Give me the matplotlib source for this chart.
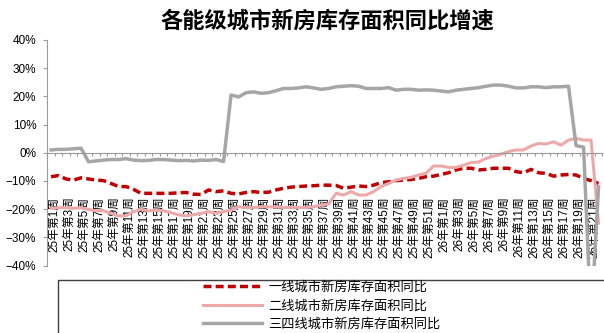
import matplotlib
matplotlib.use("Agg")
import matplotlib.pyplot as plt
import numpy as np
from matplotlib.patches import Rectangle
from matplotlib.ticker import FixedLocator, FuncFormatter
from matplotlib.transforms import ScaledTranslation

# ── data (% YoY) ─────────────────────────────────────────────────────────────
TITLE = "各能级城市新房库存面积同比增速"
WEEKS = [f"25年第{w}周" for w in range(1, 53)] + [f"26年第{w}周" for w in range(1, 23)]
NAMES = ["一线城市新房库存面积同比", "二线城市新房库存面积同比", "三四线城市新房库存面积同比"]

TIER1 = [-8.5, -8.1, -9.3, -9.7, -8.9, -9.3, -9.7, -9.9, -10.9, -12.0,
         -12.0, -13.0, -14.4, -14.4, -14.4, -14.4, -14.4, -14.2, -14.1, -14.7,
         -14.8, -13.2, -13.8, -13.5, -14.4, -14.6, -14.1, -13.8, -14.1, -14.0,
         -13.2, -12.6, -12.2, -12.0, -11.8, -11.7, -11.5, -11.5, -11.6, -12.6,
         -12.2, -11.8, -12.0, -11.5, -10.6, -10.3, -9.9, -9.7, -9.5, -9.1,
         -8.5, -8.3, -7.7, -7.1, -6.1, -5.5, -5.5, -6.1, -5.9, -5.5,
         -5.5, -5.5, -6.7, -7.1, -5.9, -7.1, -7.3, -8.3, -7.9, -7.7,
         -7.9, -9.1, -9.9, -10.9]
TIER2 = [-19.7, -19.5, -19.5, -19.7, -19.5, -20.1, -20.6, -20.6, -21.5, -22.4,
         -22.4, -20.9, -20.1, -20.6, -20.4, -20.6, -21.3, -22.0, -22.4, -22.0,
         -21.5, -20.9, -21.5, -20.9, -20.4, -19.1, -19.5, -19.4, -19.2, -19.2,
         -19.2, -19.4, -19.4, -19.4, -19.4, -19.2, -18.5, -18.2, -14.4, -15.0,
         -13.8, -15.0, -15.0, -13.8, -12.0, -10.9, -9.7, -9.1, -8.7, -7.9,
         -7.3, -4.7, -4.7, -5.2, -5.2, -4.4, -3.5, -3.3, -2.0, -1.2,
         -0.5, 0.4, 1.0, 1.0, 2.4, 3.3, 3.1, 3.9, 2.7, 4.5,
         5.1, 4.5, 4.5, -25.0]
TIER34 = [1.0, 1.2, 1.2, 1.4, 1.6, -3.2, -2.9, -2.6, -2.4, -2.4,
          -2.1, -2.6, -2.8, -2.7, -2.4, -2.4, -2.6, -2.8, -2.7, -2.9,
          -2.6, -2.7, -2.4, -3.1, 20.5, 19.8, 21.3, 21.6, 21.1, 21.3,
          22.0, 22.8, 22.8, 23.0, 23.4, 23.0, 22.5, 22.8, 23.4, 23.6,
          23.8, 23.6, 22.8, 22.8, 22.8, 23.1, 22.2, 22.5, 22.5, 22.2,
          22.3, 22.2, 21.9, 21.6, 22.2, 22.5, 22.8, 23.1, 23.6, 24.0,
          24.0, 23.6, 23.0, 23.0, 23.4, 23.4, 23.1, 23.4, 23.4, 23.6,
          2.5, 2.0, -60.0, -12.0]

assert len(TIER1) == len(TIER2) == len(TIER34) == len(WEEKS)

RED = "#C00000"
PINK = "#EDA9A9"
GREY = "#A6A6A6"
AXIS_GREY = "#9A9A9A"
CJK = ["Noto Sans CJK SC", "DejaVu Sans"]

plt.rcParams["font.family"] = ["Liberation Sans", "Noto Sans CJK SC"]

# ── figure ───────────────────────────────────────────────────────────────────
W, H = 604, 333
fig = plt.figure(figsize=(W / 100, H / 100), dpi=100)
ax = fig.add_axes([47.3 / W, 1 - 265.5 / H, (602.3 - 47.3) / W, (265.5 - 40) / H])

x = np.arange(len(WEEKS))
ax.plot(x, TIER1, color=RED, lw=2.5, dashes=(2.3, 1.2), label=NAMES[0])
ax.plot(x, TIER2, color=PINK, lw=2.2, label=NAMES[1])
ax.plot(x, TIER34, color=GREY, lw=2.5, label=NAMES[2])

ax.set_xlim(-0.5, len(WEEKS) - 0.5)
ax.set_ylim(-40, 40)
ax.set_yticks(np.arange(-40, 41, 10))
ax.yaxis.set_major_formatter(FuncFormatter(lambda v, _: f"{v:.0f}%".replace("-", "\u2212")))

for s in ("top", "right"):
    ax.spines[s].set_visible(False)
ax.spines["left"].set_color(AXIS_GREY)
ax.spines["left"].set_linewidth(0.8)
ax.spines["bottom"].set_position(("data", 0))
ax.spines["bottom"].set_color(AXIS_GREY)
ax.spines["bottom"].set_linewidth(0.8)

ax.set_xticks(x[::2])
ax.set_xticklabels(WEEKS[::2], rotation=90, fontsize=8.5)
ax.xaxis.set_minor_locator(FixedLocator(np.arange(-0.5, len(WEEKS), 1)))
ax.tick_params(axis="x", which="major", length=0, pad=31.5)
ax.tick_params(axis="x", which="minor", length=2.5, width=0.8,
               color=AXIS_GREY, direction="out")
ax.tick_params(axis="y", length=3, width=0.8, color=AXIS_GREY,
               labelsize=8.5, pad=5)

shift = ScaledTranslation(3.5 / 100, 0, fig.dpi_scale_trans)
for lbl in ax.get_xticklabels():
    lbl.set_transform(lbl.get_transform() + shift)

# title
fig.text(327 / W, 1 - 21 / H, TITLE, ha="center", va="center",
         fontsize=16, fontweight="bold", family=CJK)

# legend box runs off the bottom/right edge in the reference
fig.patches.append(Rectangle((58.3 / W, -0.1), 1.0, (1 - 280 / H) + 0.1,
                             transform=fig.transFigure, fill=False,
                             ec="#404040", lw=1.0))
fig.legend(loc="upper left", bbox_to_anchor=(203 / W, 1 - 281 / H),
           frameon=False, prop={"family": CJK, "size": 9.5},
           handlelength=4.5, handletextpad=0.45, labelspacing=0.4,
           borderpad=0, borderaxespad=0)

fig.savefig("out.png", dpi=100)
